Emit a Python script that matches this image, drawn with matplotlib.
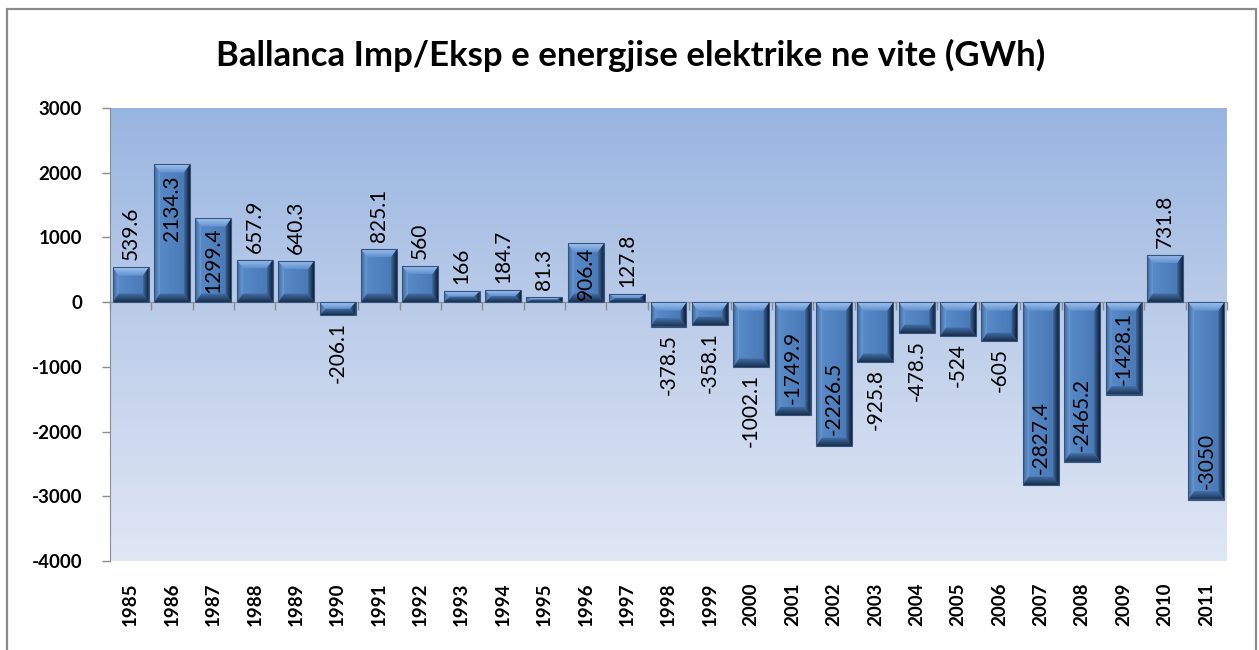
import numpy as np
import matplotlib
matplotlib.use("Agg")
import matplotlib.pyplot as plt
from matplotlib.patches import Polygon, Rectangle
from matplotlib.colors import LinearSegmentedColormap, to_rgb
from matplotlib.transforms import blended_transform_factory

# ---- data -------------------------------------------------------------
years = [str(y) for y in range(1985, 2012)]
balance_gwh = [539.6, 2134.3, 1299.4, 657.9, 640.3, -206.1, 825.1, 560, 166,
               184.7, 81.3, 906.4, 127.8, -378.5, -358.1, -1002.1, -1749.9,
               -2226.5, -925.8, -478.5, -524, -605, -2827.4, -2465.2, -1428.1,
               731.8, -3050]
value_labels = ["539.6", "2134.3", "1299.4", "657.9", "640.3", "-206.1", "825.1",
                "560", "166", "184.7", "81.3", "906.4", "127.8", "-378.5",
                "-358.1", "-1002.1", "-1749.9", "-2226.5", "-925.8", "-478.5",
                "-524", "-605", "-2827.4", "-2465.2", "-1428.1", "731.8", "-3050"]
# labels drawn inside the bar end instead of beyond it
inside_years = ["1986", "1987", "1996", "2001", "2002", "2007", "2008", "2009", "2011"]
y_ticks = [-4000, -3000, -2000, -1000, 0, 1000, 2000, 3000]
title = "Ballanca Imp/Eksp e energjise elektrike ne vite (GWh)"

FONT = "Lato"
W, H, DPI = 1259, 650, 100
fig = plt.figure(figsize=(W / DPI, H / DPI), dpi=DPI)
fig.patch.set_facecolor("white")

# outer chart frame
fig.patches.append(Rectangle((7 / W, -0.05), (1256 - 7) / W, 1.05 - 9 / H,
                             transform=fig.transFigure, fill=False,
                             edgecolor="#8a8a8a", linewidth=1.6))

ax_l, ax_r, ax_t, ax_b = 110, 1227, 108, 561
ax = fig.add_axes([ax_l / W, 1 - ax_b / H, (ax_r - ax_l) / W, (ax_b - ax_t) / H])
n = len(years)
xs = np.arange(n)
xlim = (-0.5, n - 0.5)
ylim = (y_ticks[0], y_ticks[-1])
ax.set_xlim(*xlim)
ax.set_ylim(*ylim)
ax.set_autoscale_on(False)

# plot-area vertical gradient
grad = LinearSegmentedColormap.from_list("bg", ["#e0e7f5", "#bfcfea", "#98b5e1"])
ax.imshow(np.linspace(0, 1, 256).reshape(-1, 1), cmap=grad, aspect="auto",
          origin="lower", extent=(*xlim, *ylim), zorder=0,
          interpolation="bicubic")


def gradient_poly(pts, c_from, c_to, axis, z):
    """Fill a polygon with a linear gradient along 'x' or 'y'."""
    pts = np.asarray(pts)
    x_lo, x_hi = pts[:, 0].min(), pts[:, 0].max()
    y_lo, y_hi = pts[:, 1].min(), pts[:, 1].max()
    if x_hi - x_lo <= 0 or y_hi - y_lo <= 0:
        return
    t = np.linspace(0, 1, 64)
    a, b = np.array(to_rgb(c_from)), np.array(to_rgb(c_to))
    cols = a[None, :] * (1 - t[:, None]) + b[None, :] * t[:, None]
    img = cols[None, :, :] if axis == "x" else cols[:, None, :]
    clip = Polygon(pts, closed=True, transform=ax.transData, facecolor="none",
                   edgecolor="none")
    ax.add_patch(clip)
    im = ax.imshow(img, extent=(x_lo, x_hi, y_lo, y_hi), origin="lower",
                   aspect="auto", interpolation="bilinear", zorder=z)
    im.set_clip_path(clip)


# base bars
bar_w = 0.87
bars = ax.bar(xs, balance_gwh, width=bar_w, color="#5184c2",
              edgecolor="none", linewidth=0, zorder=2)

# bevel facets, sized in pixels and converted to data units
px_x = n / (ax_r - ax_l)
px_y = (ylim[1] - ylim[0]) / (ax_b - ax_t)
side_px, cap_px = 6.0, 8.5
for rect in bars:
    x0 = rect.get_x()
    x1 = x0 + rect.get_width()
    yb = min(rect.get_y(), rect.get_y() + rect.get_height())
    yt = max(rect.get_y(), rect.get_y() + rect.get_height())
    hgt = yt - yb
    b = min(side_px * px_x, (x1 - x0) / 2)
    d = min(cap_px * px_y, hgt / 2)
    # face: gentle horizontal shading
    gradient_poly([(x0, yb), (x1, yb), (x1, yt), (x0, yt)],
                  "#5a8dcb", "#4777b3", "x", 2.1)
    # left facet
    gradient_poly([(x0, yb), (x0, yt), (x0 + b, yt - d), (x0 + b, yb + d)],
                  "#3d6699", "#6b9bd6", "x", 3)
    # right facet: dark edge
    gradient_poly([(x1, yb), (x1, yt), (x1 - b, yt - d), (x1 - b, yb + d)],
                  "#3e6aa3", "#101d30", "x", 3)
    # top facet: bright highlight
    gradient_poly([(x0, yt), (x1, yt), (x1 - b, yt - d), (x0 + b, yt - d)],
                  "#5f90cf", "#a3c4ee", "y", 3.1)
    # bottom facet: shadow
    gradient_poly([(x0, yb), (x1, yb), (x1 - b, yb + d), (x0 + b, yb + d)],
                  "#1a2e4a", "#4271ab", "y", 3.1)
    ax.add_patch(Rectangle((x0, yb), x1 - x0, hgt, fill=False,
                           edgecolor="#34557f", linewidth=0.8, zorder=4))

# value labels
renderer = fig.canvas.get_renderer()
out_pad_px, in_pad_px = 7, 11
for i, (v, lab) in enumerate(zip(balance_gwh, value_labels)):
    inside = years[i] in inside_years
    if v >= 0:
        if inside:
            y, va = v - in_pad_px * px_y, "top"
        else:
            y, va = v + out_pad_px * px_y, "bottom"
    else:
        if inside:
            y, va = v + in_pad_px * px_y, "bottom"
        else:
            y, va = v - out_pad_px * px_y, "top"
    txt = ax.text(xs[i], y, lab, rotation=90, ha="center", va=va, fontsize=15,
                  family=FONT, color="black", zorder=6)
    if inside:
        # centre the label in bars too short to hold it with padding
        length_px = txt.get_window_extent(renderer).height
        if length_px + 2 * in_pad_px > abs(v) / px_y:
            txt.set_y(v / 2)
            txt.set_va("center")

# axes styling
for s in ("top", "right"):
    ax.spines[s].set_visible(False)
ax.spines["bottom"].set_position(("data", 0))
ax.spines["bottom"].set_color("#8c8c8c")
ax.spines["left"].set_color("#8c8c8c")
ax.spines["bottom"].set_zorder(1.5)
ax.set_yticks(y_ticks)
ax.set_yticklabels([str(t) for t in y_ticks], fontsize=13.5, fontweight="bold",
                   family=FONT)
ax.tick_params(axis="y", length=6, width=1, color="#8c8c8c", pad=14)
ax.set_xticks(np.arange(n + 1) - 0.5)
ax.set_xticklabels([])
ax.tick_params(axis="x", length=6, width=1, color="#8c8c8c", direction="out")

# category labels below the plot area
tr = blended_transform_factory(ax.transData, ax.transAxes)
for i, yr in enumerate(years):
    ax.text(xs[i], -22 / (ax_b - ax_t), yr, transform=tr, rotation=90,
            ha="center", va="top", fontsize=13.5, fontweight="bold", family=FONT)

fig.text(631 / W, 1 - 55 / H, title, ha="center", va="center", fontsize=25,
         fontweight="bold", family=FONT)

ax.set_xlim(*xlim)
ax.set_ylim(*ylim)
fig.savefig("out.png", dpi=DPI)
